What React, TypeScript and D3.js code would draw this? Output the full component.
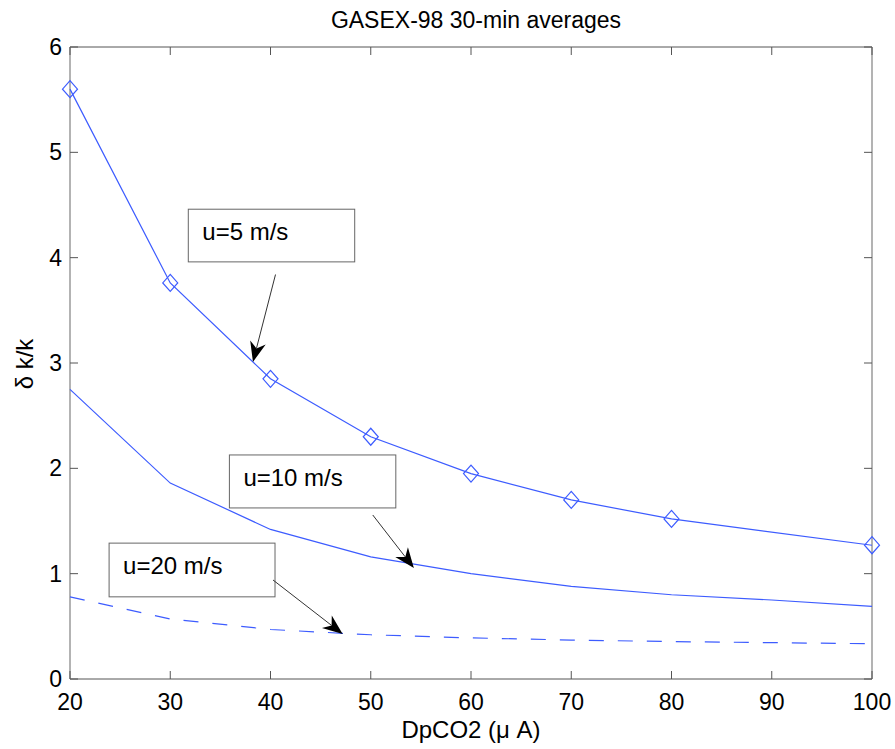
import React, { useEffect, useRef } from 'react';
import * as d3 from 'd3';

// values
const speedX = [20, 30, 40, 50, 60, 70, 80, 90, 100];
const u5X = [20, 30, 40, 50, 60, 70, 80, 100];
const u5Values = [5.6, 3.76, 2.85, 2.3, 1.95, 1.7, 1.52, 1.27];
const u10Values = [2.75, 1.86, 1.42, 1.16, 1.0, 0.88, 0.8, 0.75, 0.69];
const u20Values = [0.78, 0.57, 0.47, 0.42, 0.39, 0.37, 0.355, 0.345, 0.335];

const xTicks = [20, 30, 40, 50, 60, 70, 80, 90, 100];
const yTicks = [0, 1, 2, 3, 4, 5, 6];

// text boxes with arrows, in data units: box [x0, x1, y0, y1], arrow tail -> tip
const notes = [
  { label: 'u=5 m/s', box: [31.8, 48.4, 4.46, 3.96], tail: [40.5, 3.84], tip: [38.25, 3.01] },
  { label: 'u=10 m/s', box: [35.9, 52.5, 2.127, 1.624], tail: [50.2, 1.557], tip: [54.3, 1.054] },
  { label: 'u=20 m/s', box: [23.9, 40.45, 1.29, 0.78], tail: [40.25, 0.94], tip: [47.2, 0.427] },
];

const App = () => {
  const svgRef = useRef<SVGSVGElement>(null);

  useEffect(() => {
    const W = 895, H = 749;
    const margin = { top: 47, right: 23, bottom: 70, left: 70 };
    const width = W - margin.left - margin.right;
    const height = H - margin.top - margin.bottom;
    const font = 'Liberation Sans, Arial, Helvetica, sans-serif';
    const blue = '#3d5cff';

    const root = d3.select(svgRef.current);
    root.selectAll('*').remove();
    root.attr('width', W).attr('height', H).style('background', '#fff');

    const svg = root.append('g').attr('transform', `translate(${margin.left},${margin.top})`);

    const x = d3.scaleLinear().domain([20, 100]).range([0, width]);
    const y = d3.scaleLinear().domain([0, 6]).range([height, 0]);

    // frame: top/bottom dark, left/right lighter and thicker
    svg.append('line').attr('x1', 0).attr('x2', width).attr('y1', 0).attr('y2', 0).attr('stroke', '#555');
    svg.append('line').attr('x1', 0).attr('x2', width).attr('y1', height).attr('y2', height).attr('stroke', '#555');
    svg.append('line').attr('x1', 0).attr('x2', 0).attr('y1', 0).attr('y2', height).attr('stroke', '#9a9a9a').attr('stroke-width', 1.5);
    svg.append('line').attr('x1', width).attr('x2', width).attr('y1', 0).attr('y2', height).attr('stroke', '#9a9a9a').attr('stroke-width', 1.5);

    // inward ticks
    const tickLen = 8;
    xTicks.forEach(t => {
      svg.append('line').attr('x1', x(t)).attr('x2', x(t)).attr('y1', height).attr('y2', height - tickLen).attr('stroke', '#555');
      svg.append('line').attr('x1', x(t)).attr('x2', x(t)).attr('y1', 0).attr('y2', tickLen).attr('stroke', '#555');
      svg.append('text')
        .attr('x', x(t)).attr('y', height + 31)
        .attr('text-anchor', 'middle')
        .style('font-family', font).style('font-size', '23px')
        .text(t);
    });
    yTicks.forEach(t => {
      svg.append('line').attr('x1', 0).attr('x2', tickLen).attr('y1', y(t)).attr('y2', y(t)).attr('stroke', '#555');
      svg.append('line').attr('x1', width).attr('x2', width - tickLen).attr('y1', y(t)).attr('y2', y(t)).attr('stroke', '#555');
      svg.append('text')
        .attr('x', -8).attr('y', y(t) + 8)
        .attr('text-anchor', 'end')
        .style('font-family', font).style('font-size', '23px')
        .text(t);
    });

    // series
    const line = d3.line<[number, number]>().x(d => x(d[0])).y(d => y(d[1]));

    svg.append('path')
      .datum(d3.zip(u5X, u5Values) as [number, number][])
      .attr('fill', 'none').attr('stroke', blue).attr('stroke-width', 1.2)
      .attr('d', line);

    svg.append('path')
      .datum(d3.zip(speedX, u10Values) as [number, number][])
      .attr('fill', 'none').attr('stroke', blue).attr('stroke-width', 1.2)
      .attr('d', line);

    svg.append('path')
      .datum(d3.zip(speedX, u20Values) as [number, number][])
      .attr('fill', 'none').attr('stroke', blue).attr('stroke-width', 1.2)
      .attr('stroke-dasharray', '15,14')
      .attr('d', line);

    // diamond markers
    svg.selectAll('.diamond')
      .data(d3.zip(u5X, u5Values))
      .enter()
      .append('path')
      .attr('class', 'diamond')
      .attr('d', d => {
        const cx = x(d[0]), cy = y(d[1]);
        return `M${cx},${cy - 8.5}L${cx + 7.5},${cy}L${cx},${cy + 8.5}L${cx - 7.5},${cy}Z`;
      })
      .attr('fill', 'none').attr('stroke', blue).attr('stroke-width', 1.2);

    // annotations
    notes.forEach(n => {
      const bx0 = x(n.box[0]), bx1 = x(n.box[1]);
      const by0 = y(n.box[2]), by1 = y(n.box[3]);
      svg.append('rect')
        .attr('x', bx0).attr('y', by0)
        .attr('width', bx1 - bx0).attr('height', by1 - by0)
        .attr('fill', '#fff').attr('stroke', '#666').attr('stroke-width', 1);
      svg.append('text')
        .attr('x', bx0 + 14).attr('y', by0 + 31)
        .style('font-family', font).style('font-size', '24px')
        .text(n.label);

      const tx = x(n.tail[0]), ty = y(n.tail[1]);
      const px = x(n.tip[0]), py = y(n.tip[1]);
      const ang = Math.atan2(py - ty, px - tx);
      const headLen = 20, headHalf = 8, notch = 14;
      const ux = Math.cos(ang), uy = Math.sin(ang);
      const back = (d: number, s: number): [number, number] => [px - ux * d - uy * s, py - uy * d + ux * s];
      svg.append('line')
        .attr('x1', tx).attr('y1', ty)
        .attr('x2', px - ux * notch).attr('y2', py - uy * notch)
        .attr('stroke', '#333').attr('stroke-width', 1);
      const pts = [[px, py], back(headLen, headHalf), back(notch, 0), back(headLen, -headHalf)];
      svg.append('path')
        .attr('d', 'M' + pts.map(p => p.join(',')).join('L') + 'Z')
        .attr('fill', '#000');
    });

    // titles
    root.append('text')
      .attr('x', 476).attr('y', 28)
      .attr('text-anchor', 'middle')
      .style('font-family', font).style('font-size', '23px')
      .text('GASEX-98 30-min averages');

    root.append('text')
      .attr('x', 471).attr('y', 738)
      .attr('text-anchor', 'middle')
      .style('font-family', font).style('font-size', '24px')
      .text('DpCO2 (\u03bc A)');

    root.append('text')
      .attr('transform', 'translate(33,364) rotate(-90)')
      .attr('text-anchor', 'middle')
      .style('font-family', font).style('font-size', '24px')
      .text('\u03b4 k/k');
  }, []);

  return (
    <div style={{ position: 'absolute', left: 0, top: 0, width: 895, height: 749, background: '#fff' }}>
      <svg ref={svgRef}></svg>
    </div>
  );
};

export default App;
